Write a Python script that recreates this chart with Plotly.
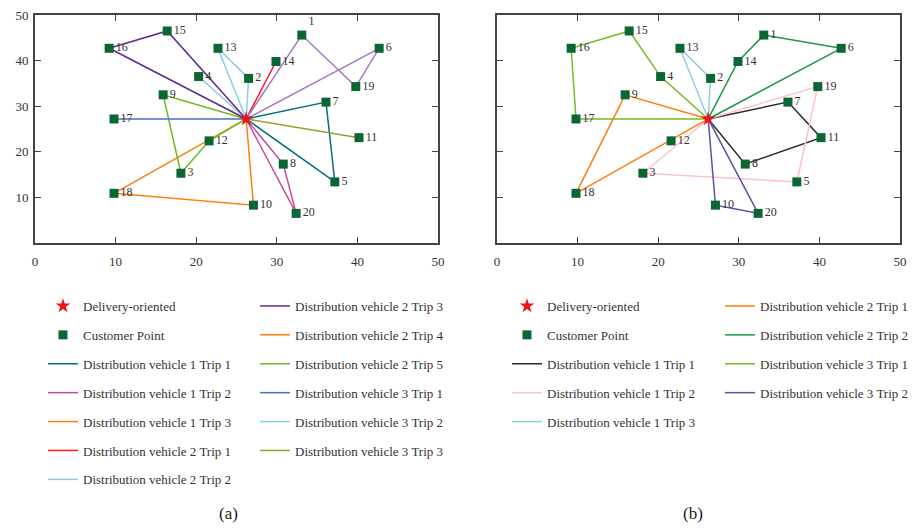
import plotly.graph_objects as go

# ---------------- data ----------------
point_ids = list(range(1, 21))
point_x = [33.1, 26.5, 18.1, 20.3, 37.2, 42.7, 36.1, 30.8, 15.9, 27.1,
           40.2, 21.6, 22.7, 29.9, 16.4, 9.2, 9.8, 9.8, 39.8, 32.4]
point_y = [45.6, 36.1, 15.3, 36.5, 13.4, 42.7, 30.9, 17.3, 32.5, 8.3,
           23.1, 22.4, 42.7, 39.8, 46.5, 42.7, 27.2, 10.9, 34.3, 6.5]
depot_x = [26.2]
depot_y = [27.2]

# routes (customer ids visited between leaving and returning to the depot)
routes_a_names = ["Distribution vehicle 1 Trip 1", "Distribution vehicle 1 Trip 2",
                  "Distribution vehicle 1 Trip 3", "Distribution vehicle 2 Trip 1",
                  "Distribution vehicle 2 Trip 2", "Distribution vehicle 2 Trip 3",
                  "Distribution vehicle 2 Trip 4", "Distribution vehicle 2 Trip 5",
                  "Distribution vehicle 3 Trip 1", "Distribution vehicle 3 Trip 2",
                  "Distribution vehicle 3 Trip 3"]
routes_a_stops = [[7, 5], [8, 20], [10, 18], [14], [4], [15, 16],
                  [1, 19, 6], [9, 3, 12], [17], [13, 2], [11]]
routes_a_colors = ["#00707a", "#c94a9c", "#ff7f0e", "#ff1a1a", "#9dc3e6", "#5a2d91",
                   "#a678c0", "#70b822", "#4a72c4", "#87cee8", "#9c9c2a"]
routes_a_legend_colors = ["#00707a", "#c94a9c", "#ff7f0e", "#ff1a1a", "#9dc3e6", "#5a2d91",
                          "#ff7f0e", "#70b822", "#4a72c4", "#87cee8", "#9c9c2a"]

routes_b_names = ["Distribution vehicle 1 Trip 1", "Distribution vehicle 1 Trip 2",
                  "Distribution vehicle 1 Trip 3", "Distribution vehicle 2 Trip 1",
                  "Distribution vehicle 2 Trip 2", "Distribution vehicle 3 Trip 1",
                  "Distribution vehicle 3 Trip 2"]
routes_b_stops = [[7, 11, 8], [19, 5, 3], [2, 13], [9, 18], [14, 1, 6],
                  [4, 15, 16, 17], [10, 20]]
routes_b_colors = ["#2a2a2a", "#ffc0cb", "#8fd0e0", "#ff7f0e", "#1b9748",
                   "#78bb25", "#5555a8"]

text_pos_a = ["top right"] + ["middle right"] * 19
text_pos_b = ["middle right"] * 20

FONT = "Liberation Serif"

fig = go.Figure()

def add_panel(xa, ya, names, stops, colors, legend_colors, textpos, legends, ncol1):
    # route lines
    for i, (nm, st, col) in enumerate(zip(names, stops, colors)):
        xs = depot_x + [point_x[s - 1] for s in st] + depot_x
        ys = depot_y + [point_y[s - 1] for s in st] + depot_y
        lg = legends[0] if i + 2 < ncol1 else legends[1]
        same = legend_colors[i] == col
        fig.add_trace(go.Scatter(x=xs, y=ys, mode="lines", name=nm,
                                 line=dict(color=col, width=1.5),
                                 xaxis=xa, yaxis=ya, showlegend=same,
                                 legend=lg, legendgroup=f"{xa}{i}", legendrank=10 + i))
        if not same:
            fig.add_trace(go.Scatter(x=[None], y=[None], mode="lines", name=nm,
                                     line=dict(color=legend_colors[i], width=1.5),
                                     xaxis=xa, yaxis=ya, showlegend=True,
                                     legend=lg, legendgroup=f"{xa}{i}", legendrank=10 + i))
    # customer points
    fig.add_trace(go.Scatter(x=point_x, y=point_y, mode="markers+text",
                             name="Customer Point",
                             text=[str(p) for p in point_ids], textposition=textpos,
                             textfont=dict(family=FONT, size=12, color="#333333"),
                             marker=dict(symbol="square", size=9, color="#0a6632"),
                             xaxis=xa, yaxis=ya, legend=legends[0],
                             legendgroup=f"{xa}cp", legendrank=2))
    # depot
    fig.add_trace(go.Scatter(x=depot_x, y=depot_y, mode="markers",
                             name="Delivery-oriented",
                             marker=dict(symbol="star", size=11, color="#e8141c"),
                             xaxis=xa, yaxis=ya, legend=legends[0],
                             legendgroup=f"{xa}dep", legendrank=1))

add_panel("x", "y", routes_a_names, routes_a_stops, routes_a_colors,
          routes_a_legend_colors, text_pos_a, ["legend", "legend2"], 7)
add_panel("x2", "y2", routes_b_names, routes_b_stops, routes_b_colors,
          routes_b_colors, text_pos_b, ["legend3", "legend4"], 5)

W, H = 914, 528
ytop = 1 - 15 / H
ybot = 1 - 243 / H

axis_common = dict(range=[0, 50], showgrid=False, zeroline=False, showline=True,
                   linecolor="#444444", linewidth=1.6, mirror="ticks", ticks="inside",
                   ticklen=6, tickcolor="#444444", tickwidth=1.4, automargin=False,
                   tickfont=dict(family=FONT, size=13, color="#333333"))

fig.update_layout(
    xaxis=dict(domain=[35 / W, 438 / W], anchor="y", tickvals=[0, 10, 20, 30, 40, 50],
               ticklabelstandoff=6, **axis_common),
    yaxis=dict(domain=[ybot, ytop], anchor="x", tickvals=[10, 20, 30, 40, 50],
               ticklabelstandoff=2, **axis_common),
    xaxis2=dict(domain=[497 / W, 900 / W], anchor="y2", tickvals=[0, 10, 20, 30, 40, 50],
                ticklabelstandoff=6, **axis_common),
    yaxis2=dict(domain=[ybot, ytop], anchor="x2", tickvals=[10, 20, 30, 40, 50],
                showticklabels=False, **axis_common),
    width=W, height=H, margin=dict(l=0, r=0, t=0, b=0, autoexpand=False),
    paper_bgcolor="white", plot_bgcolor="white",
    font=dict(family=FONT, size=13, color="#333333"),
)

leg_common = dict(font=dict(family=FONT, size=13, color="#333333"), traceorder="grouped",
                  tracegroupgap=9, bgcolor="rgba(0,0,0,0)", borderwidth=0,
                  xanchor="left", yanchor="top", itemwidth=30)
ylegend = 1 - 291 / H
fig.update_layout(
    legend=dict(x=43 / W, y=ylegend, **leg_common),
    legend2=dict(x=255 / W, y=ylegend, **leg_common),
    legend3=dict(x=507 / W, y=ylegend, **leg_common),
    legend4=dict(x=720 / W, y=ylegend, **leg_common),
)

fig.add_annotation(text="(a)", x=228 / W, y=1 - 513 / H, xref="paper", yref="paper",
                   xanchor="center", yanchor="middle", showarrow=False,
                   font=dict(family=FONT, size=17, color="#222222"))
fig.add_annotation(text="(b)", x=693 / W, y=1 - 513 / H, xref="paper", yref="paper",
                   xanchor="center", yanchor="middle", showarrow=False,
                   font=dict(family=FONT, size=17, color="#222222"))

fig.write_html("out.html", config={"displayModeBar": False},
               post_script="document.body.style.margin='0px';")
